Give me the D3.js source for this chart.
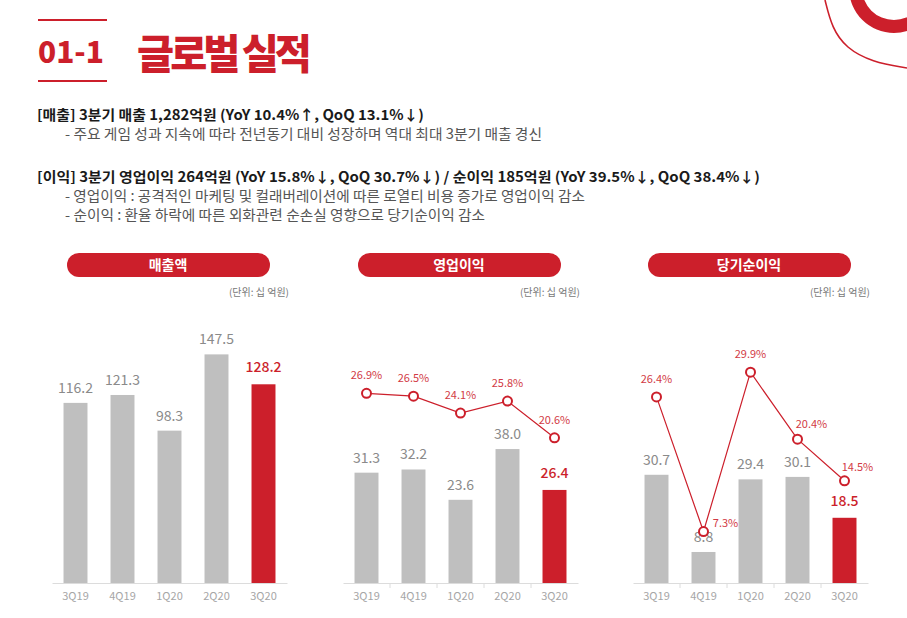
<!DOCTYPE html>
<html>
<head>
<meta charset="utf-8">
<script src="https://cdn.jsdelivr.net/npm/d3@7"></script>
<style>
  body { margin: 0; background: #fff; }
  text { font-family: "Noto Sans CJK KR", "Noto Sans", sans-serif; }
</style>
</head>
<body>
<script>
// data
const quarters = ["3Q19", "4Q19", "1Q20", "2Q20", "3Q20"];
const revenue = [116.2, 121.3, 98.3, 147.5, 128.2];
const opProfit = [31.3, 32.2, 23.6, 38.0, 26.4];
const opMargin = [26.9, 26.5, 24.1, 25.8, 20.6];
const netProfit = [30.7, 8.8, 29.4, 30.1, 18.5];
const netMargin = [26.4, 7.3, 29.9, 20.4, 14.5];

const RED = "#cc1f2b";
const GREY_BAR = "#bfbfbf";
const baseY = 583;

const svg = d3.select("body").append("svg")
    .attr("width", 907)
    .attr("height", 618);

// top-right decoration
const deco = svg.append("g");
deco.append("path")
    .attr("transform", "translate(894,-12)")
    .attr("d", d3.arc()({innerRadius: 32, outerRadius: 45, startAngle: 0, endAngle: 2 * Math.PI}))
    .attr("fill", RED);
deco.append("path")
    .attr("d", d3.line().curve(d3.curveBasis)([[825, 0], [832, 28], [846, 48], [872, 62], [907, 68]]))
    .attr("fill", "none")
    .attr("stroke", RED)
    .attr("stroke-width", 1.6);

// heading
const head = svg.append("g");
head.selectAll("line")
    .data([20, 81]).enter()
    .append("line")
        .attr("x1", 38).attr("x2", 107)
        .attr("y1", d => d).attr("y2", d => d)
        .attr("stroke", RED)
        .attr("stroke-width", 2);
head.append("text")
    .attr("x", 38).attr("y", 63)
    .attr("textLength", 66)
    .attr("lengthAdjust", "spacingAndGlyphs")
    .attr("fill", RED)
    .style("font-size", "30px")
    .style("font-weight", 900)
    .text("01-1");
head.append("text")
    .attr("x", 137).attr("y", 69)
    .attr("textLength", 171)
    .attr("lengthAdjust", "spacingAndGlyphs")
    .attr("fill", RED)
    .style("font-size", "41px")
    .style("font-weight", 900)
    .style("letter-spacing", "-4px")
    .text("글로벌 실적");

// summary text block
const lines = [
    {x: 37, y: 120, w: 387, bold: true, t: "[매출] 3분기 매출 1,282억원 (YoY 10.4%↑, QoQ 13.1%↓)"},
    {x: 65, y: 139, w: 477, bold: false, t: "-  주요 게임 성과 지속에 따라 전년동기 대비 성장하며 역대 최대 3분기 매출 경신"},
    {x: 37, y: 182, w: 723, bold: true, t: "[이익] 3분기 영업이익 264억원 (YoY 15.8%↓, QoQ 30.7%↓) / 순이익 185억원 (YoY 39.5%↓, QoQ 38.4%↓)"},
    {x: 65, y: 201, w: 520, bold: false, t: "-  영업이익 : 공격적인 마케팅 및 컬래버레이션에 따른 로열티 비용 증가로 영업이익 감소"},
    {x: 65, y: 220, w: 420, bold: false, t: "-  순이익 : 환율 하락에 따른 외화관련 순손실 영향으로 당기순이익 감소"}
];
svg.append("g").selectAll("text")
    .data(lines).enter()
    .append("text")
        .attr("x", d => d.x)
        .attr("y", d => d.y)
        .attr("textLength", d => d.w)
        .attr("lengthAdjust", "spacingAndGlyphs")
        .attr("fill", d => d.bold ? "#1a1a1a" : "#555")
        .style("font-size", "14px")
        .style("font-weight", d => d.bold ? 700 : 400)
        .text(d => d.t);

const panels = [
    {title: "매출액", x0: 52, bars: revenue, max: 160, h: 248, rate: null, ticks: false},
    {title: "영업이익", x0: 343, bars: opProfit, max: 40, h: 141, rate: opMargin, ticks: true,
        nudge: [[0, -18], [0, -18], [0, -18], [0, -18], [0, -18]]},
    {title: "당기순이익", x0: 633, bars: netProfit, max: 40, h: 141, rate: netMargin, ticks: true,
        nudge: [[0, -18], [22, -9], [0, -18], [14, -15], [13, -14]]}
];

const drawPanel = function(p) {
    const g = svg.append("g");
    const scaleX = d3.scaleBand()
        .domain(quarters)
        .range([p.x0, p.x0 + 235])
        .paddingInner(0.49)
        .paddingOuter(0.245);
    const scaleY = d3.scaleLinear()
        .domain([0, p.max])
        .range([baseY, baseY - p.h]);

    // title pill
    g.append("rect")
        .attr("x", p.x0 + 15).attr("y", 253)
        .attr("width", 203).attr("height", 24)
        .attr("rx", 12)
        .attr("fill", RED);
    g.append("text")
        .attr("x", p.x0 + 116).attr("y", 270)
        .attr("text-anchor", "middle")
        .attr("fill", "#fff")
        .style("font-size", "14px")
        .style("font-weight", 700)
        .text(p.title);
    g.append("text")
        .attr("x", p.x0 + 237).attr("y", 296)
        .attr("text-anchor", "end")
        .attr("fill", "#777")
        .style("font-size", "10px")
        .text("(단위: 십 억원)");

    // bars
    const last = quarters.length - 1;
    g.append("g").selectAll("rect")
        .data(p.bars).enter()
        .append("rect")
            .attr("x", (d, i) => scaleX(quarters[i]))
            .attr("y", d => scaleY(d))
            .attr("width", scaleX.bandwidth())
            .attr("height", d => baseY - scaleY(d))
            .attr("fill", (d, i) => i === last ? RED : GREY_BAR);
    g.append("g").selectAll("text")
        .data(p.bars).enter()
        .append("text")
            .attr("x", (d, i) => scaleX(quarters[i]) + scaleX.bandwidth() / 2)
            .attr("y", (d, i) => scaleY(d) - (i === last ? 12 : 10))
            .attr("text-anchor", "middle")
            .attr("fill", (d, i) => i === last ? RED : "#8a8a8a")
            .style("font-size", "14px")
            .style("font-weight", (d, i) => i === last ? 500 : 400)
            .text(d => d.toFixed(1));

    // category axis
    const axis = d3.axisBottom(scaleX).tickSize(0).tickPadding(9);
    const axisG = g.append("g")
        .attr("transform", `translate(0,${baseY})`)
        .call(axis);
    axisG.select(".domain").attr("stroke", "#dcdcdc");
    axisG.selectAll("text")
        .attr("fill", "#a6a6a6")
        .style("font-size", "11px")
        .style("font-family", "'Noto Sans CJK KR', sans-serif");
    if (p.ticks) {
        const step = scaleX.step();
        g.append("g").selectAll("line")
            .data(quarters.slice(1)).enter()
            .append("line")
                .attr("x1", d => scaleX(d) - step * 0.245)
                .attr("x2", d => scaleX(d) - step * 0.245)
                .attr("y1", baseY).attr("y2", baseY + 5)
                .attr("stroke", "#dcdcdc");
    }

    // margin line
    if (p.rate) {
        const scaleR = d3.scaleLinear()
            .domain([0, 30])
            .range([baseY, baseY - 211.5]);
        const cx = (d, i) => scaleX(quarters[i]) + scaleX.bandwidth() / 2;
        g.append("path")
            .datum(p.rate)
            .attr("d", d3.line().x(cx).y(d => scaleR(d)))
            .attr("fill", "none")
            .attr("stroke", RED)
            .attr("stroke-width", 1.2);
        g.append("g").selectAll("circle")
            .data(p.rate).enter()
            .append("circle")
                .attr("cx", cx)
                .attr("cy", d => scaleR(d))
                .attr("r", 4.5)
                .attr("fill", "#fff")
                .attr("stroke", RED)
                .attr("stroke-width", 2);
        g.append("g").selectAll("text")
            .data(p.rate).enter()
            .append("text")
                .attr("x", (d, i) => cx(d, i) + p.nudge[i][0])
                .attr("y", (d, i) => scaleR(d) + p.nudge[i][1] + 4)
                .attr("text-anchor", "middle")
                .attr("fill", "#d23a45")
                .style("font-size", "11px")
                .text(d => d.toFixed(1) + "%");
    }
}

panels.forEach(drawPanel);
</script>
</body>
</html>
